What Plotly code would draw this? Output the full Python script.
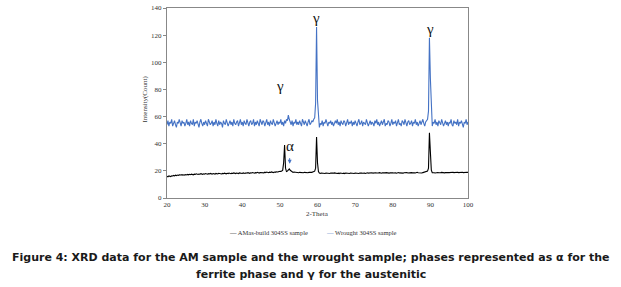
import numpy as np
import plotly.graph_objects as go

# 2-Theta sampling grid: 20 to 100 in 0.25 steps
two_theta_start = 20.0
two_theta_step = 0.25

wrought_304ss = [
    54,57,53,56,55,58,53,55,57,54,52,56,55,58,54,53,57,55,56,53,
    55,58,54,56,53,57,55,54,58,53,56,55,57,54,52,56,58,55,53,56,
    54,57,55,53,58,56,54,55,57,53,56,54,58,55,53,57,54,56,55,52,
    57,55,54,58,56,53,55,57,54,56,53,58,55,54,56,57,53,55,58,54,
    56,53,57,55,54,58,55,53,56,57,54,55,58,53,56,54,57,55,53,58,
    55,54,57,56,53,55,58,54,56,53,57,55,54,58,56,53,55,57,54,56,
    55,58,54,56,53,57,55,58,57,61,58,56,54,57,53,56,55,58,54,56,
    54,57,55,53,58,56,54,57,55,53,56,58,54,55,57,56,58,59,70,126,
    72,57,52,55,54,57,53,56,55,58,54,53,56,55,57,54,56,53,55,57,
    55,58,54,56,53,57,55,54,57,56,53,55,58,54,56,55,57,53,56,54,
    57,55,53,56,58,54,55,57,53,56,55,54,58,56,53,55,57,54,56,55,
    53,57,55,58,54,56,53,55,57,54,56,58,53,55,54,57,56,53,55,58,
    54,56,55,57,53,56,58,54,55,53,57,56,54,58,55,53,56,57,54,55,
    57,53,56,55,58,54,56,53,55,57,54,56,58,55,53,56,57,58,64,118,
    88,60,53,56,55,58,54,56,53,57,55,54,58,56,53,55,57,54,56,53,
    56,55,58,54,53,57,55,56,54,58,53,56,55,57,54,52,56,55,58,54,56,
]

am_build_304ss = [
    16.0,15.6,16.3,16.1,15.8,16.4,16.2,16.6,16.3,16.8,16.5,16.9,16.6,17.0,16.7,16.9,17.2,16.8,17.1,16.9,
    17.3,17.0,17.4,17.1,17.5,17.2,17.6,17.3,17.1,17.6,17.4,17.8,17.5,17.3,17.7,17.5,17.9,17.6,17.4,17.8,
    17.6,18.0,17.7,17.5,17.9,17.7,18.1,17.8,17.6,18.0,17.8,17.6,18.1,17.9,17.7,18.2,17.9,18.0,17.7,18.1,
    17.9,18.3,18.0,17.8,18.2,18.0,18.4,18.1,17.9,18.3,18.1,18.5,18.2,18.0,18.4,18.2,18.0,18.5,18.2,18.4,
    18.1,18.5,18.3,18.1,18.6,18.3,18.7,18.4,18.2,18.6,18.4,18.8,18.5,18.3,18.7,18.5,18.9,18.6,18.4,18.8,
    18.6,18.9,18.7,18.5,19.0,18.7,19.1,18.8,18.6,19.0,18.8,19.2,18.9,18.7,19.1,18.9,19.3,19.0,19.2,19.5,
    19.4,19.6,19.9,20.5,26.0,39.0,22.0,19.5,19.8,20.8,21.5,20.4,19.6,19.0,18.8,19.1,18.9,18.7,19.0,18.8,
    18.6,18.9,18.7,19.0,18.8,18.6,18.9,18.7,19.0,18.8,18.6,18.9,18.7,19.0,18.9,19.1,19.4,19.8,22.0,45.0,
    26.0,19.5,18.4,18.1,18.4,18.2,18.0,18.3,18.1,18.4,18.2,18.0,18.3,18.1,18.4,18.2,18.0,18.3,18.5,18.2,
    18.4,18.1,18.3,18.0,18.4,18.2,18.5,18.1,18.3,18.0,18.4,18.2,18.5,18.3,18.1,18.4,18.2,18.5,18.3,18.1,
    18.4,18.2,18.5,18.3,18.1,18.4,18.6,18.3,18.2,18.5,18.3,18.1,18.4,18.6,18.3,18.5,18.2,18.4,18.6,18.3,
    18.5,18.3,18.6,18.4,18.2,18.5,18.7,18.4,18.3,18.6,18.4,18.2,18.5,18.7,18.4,18.6,18.3,18.5,18.7,18.4,
    18.6,18.4,18.7,18.5,18.3,18.6,18.8,18.5,18.4,18.7,18.5,18.3,18.6,18.8,18.5,18.7,18.4,18.6,18.8,18.5,
    18.7,18.5,18.8,18.6,18.4,18.7,18.9,18.6,18.5,18.8,18.6,18.4,18.7,18.9,18.8,19.0,19.3,19.8,22.0,48.0,
    34.0,20.5,18.6,18.3,18.6,18.4,18.7,18.5,18.8,18.6,18.4,18.7,18.9,18.6,18.8,18.5,18.7,18.9,18.6,18.8,
    18.7,18.9,18.6,18.8,19.0,18.7,18.9,18.6,18.8,19.0,18.7,18.9,19.1,18.8,19.0,18.7,18.9,19.1,18.8,19.0,18.9,
]

x_wrought = two_theta_start + two_theta_step * np.arange(len(wrought_304ss))
x_am = two_theta_start + two_theta_step * np.arange(len(am_build_304ss))

series_names = ["AMas-build 304SS sample", "Wrought 304SS sample"]
x_ticks = [20, 30, 40, 50, 60, 70, 80, 90, 100]
y_ticks = [0, 20, 40, 60, 80, 100, 120, 140]

# phase labels: (2-theta, intensity, symbol)
phase_labels = [(50.1, 82.5, "γ"), (59.6, 132.5, "γ"), (89.8, 124.5, "γ"), (52.6, 38.5, "α")]

BLUE = "#4472C4"
serif = "Liberation Serif"

fig = go.Figure()
fig.add_trace(go.Scatter(x=x_wrought, y=wrought_304ss, mode="lines",
                         line=dict(color=BLUE, width=1.1), name=series_names[1]))
fig.add_trace(go.Scatter(x=x_am, y=am_build_304ss, mode="lines",
                         line=dict(color="#000000", width=1.1), name=series_names[0]))

W, H = 621, 287
L, R, T, B = 166.5, 468, 4.5, 197.7

annotations = []
for xx, yy, s in phase_labels:
    annotations.append(dict(x=xx, y=yy, xref="x", yref="y", text=s, showarrow=False,
                            xanchor="center", yanchor="middle",
                            font=dict(family=serif, size=15, color="#111")))
# small arrow under alpha
annotations.append(dict(x=52.6, y=25.2, ax=52.6, ay=30.5, xref="x", yref="y", axref="x", ayref="y",
                        text="", showarrow=True, arrowhead=2, arrowsize=0.8, arrowwidth=1,
                        arrowcolor=BLUE))

def px_to_paper(px, py):
    return (px - L) / (R - L), (B - py) / (B - T)

def text_at(px, py, text, font, **kw):
    xp, yp = px_to_paper(px, py)
    d = dict(x=xp, y=yp, xref="paper", yref="paper", text=text, showarrow=False,
             xanchor="center", yanchor="middle", font=font)
    d.update(kw)
    annotations.append(d)

small = dict(family=serif, size=7, color="#333")
text_at(317, 214, "2-Theta", small)
text_at(144, 97, "Intensity(Count)", small, textangle=-90)
leg = dict(family=serif, size=6.5, color="#333")
text_at(268, 233, "<span style='color:#000'>—</span> " + series_names[0], leg)
text_at(361, 233, "<span style='color:%s'>—</span> " % BLUE + series_names[1], leg)

cap_font = dict(family="DejaVu Sans", size=11, color="#1a1a1a")
text_at(311, 258, "<b>Figure 4: XRD data for the AM sample and the wrought sample; phases represented as α for the</b>", cap_font)
text_at(311, 275, "<b>ferrite phase and γ for the austenitic</b>", cap_font)

fig.update_layout(
    width=W, height=H,
    margin=dict(l=L, r=W - R, t=T, b=H - B, pad=0),
    paper_bgcolor="white", plot_bgcolor="white",
    showlegend=False,
    annotations=annotations,
    xaxis=dict(range=[20, 100], tickvals=x_ticks, showgrid=False, zeroline=False,
               showline=True, linecolor="#888", linewidth=1, mirror=True, ticks="",
               tickfont=dict(family=serif, size=7, color="#333")),
    yaxis=dict(range=[0, 140], tickvals=y_ticks, showgrid=False, zeroline=False,
               showline=True, linecolor="#888", linewidth=1, mirror=True, ticks="outside",
               ticklen=3, tickcolor="#888",
               tickfont=dict(family=serif, size=7, color="#333")),
)

fig.write_html("out.html", config={"displayModeBar": False},
               post_script="document.body.style.margin='0';document.body.style.overflow='hidden';")
